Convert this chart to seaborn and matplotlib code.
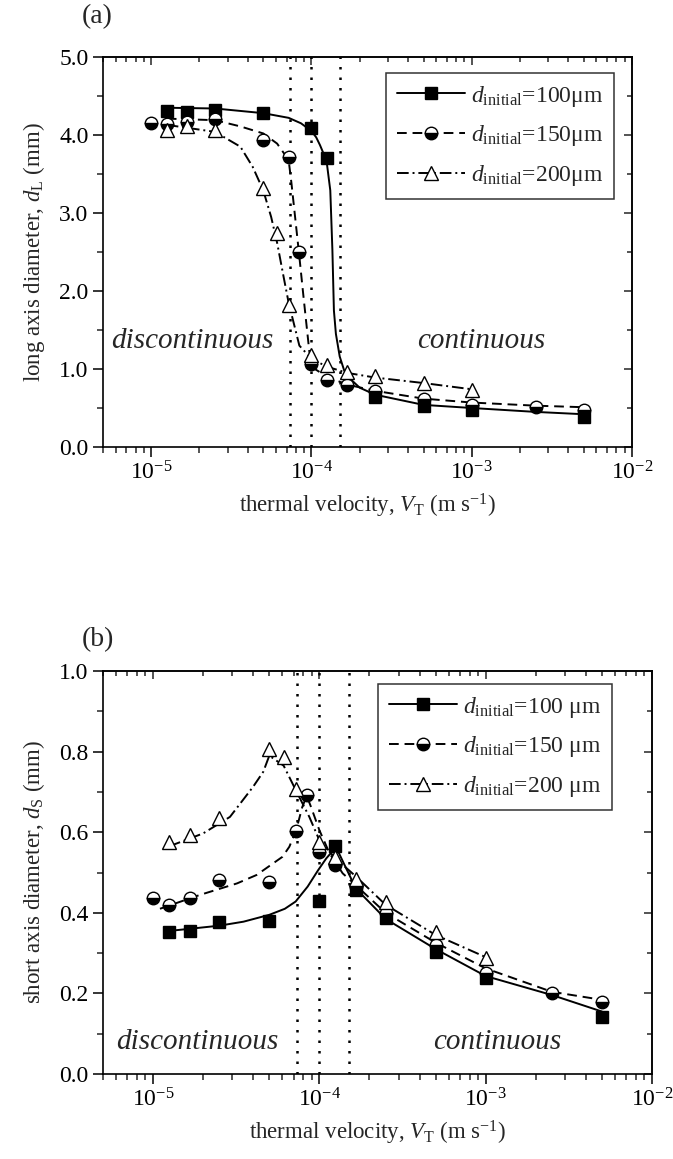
import numpy as np
import pandas as pd
import matplotlib
matplotlib.use('Agg')
import matplotlib.pyplot as plt
import seaborn as sns
from matplotlib.lines import Line2D
from matplotlib.ticker import LogLocator, MultipleLocator, FormatStrFormatter, NullFormatter

# ---- panel (a): long axis diameter, measured points ----
vt_a_100 = [1.25e-5, 1.67e-5, 2.5e-5, 5e-5, 1e-4, 1.25e-4, 2.5e-4, 5e-4, 1e-3, 5e-3]
dl_100 = [4.31, 4.29, 4.32, 4.28, 4.09, 3.70, 0.64, 0.53, 0.47, 0.39]
vt_a_150 = [1e-5, 1.25e-5, 1.67e-5, 2.5e-5, 5e-5, 7.2e-5, 8.4e-5, 1e-4, 1.25e-4, 1.67e-4,
            2.5e-4, 5e-4, 1e-3, 2.5e-3, 5e-3]
dl_150 = [4.16, 4.14, 4.17, 4.20, 3.94, 3.72, 2.50, 1.07, 0.86, 0.79, 0.72, 0.61, 0.54, 0.51, 0.48]
vt_a_200 = [1.25e-5, 1.67e-5, 2.5e-5, 5e-5, 6.1e-5, 7.2e-5, 1e-4, 1.25e-4, 1.67e-4, 2.5e-4, 5e-4, 1e-3]
dl_200 = [4.06, 4.11, 4.06, 3.32, 2.74, 1.82, 1.18, 1.05, 0.965, 0.91, 0.82, 0.73]

# fitted curves (a)
fit_a_100_vt = [1.2e-5, 2.5e-5, 5e-5, 7.2e-5, 8.6e-5, 1e-4, 1.07e-4, 1.13e-4, 1.19e-4, 1.25e-4,
                1.31e-4, 1.35e-4, 1.38e-4, 1.42e-4, 1.5e-4, 1.6e-4, 1.73e-4, 2e-4, 2.5e-4,
                5e-4, 1e-3, 2.5e-3, 5e-3]
fit_a_100_d = [4.35, 4.34, 4.28, 4.22, 4.15, 4.05, 3.97, 3.87, 3.76, 3.62,
               3.29, 2.53, 1.75, 1.45, 1.16, 0.98, 0.88, 0.76, 0.67,
               0.54, 0.50, 0.45, 0.42]
fit_a_150_vt = [1.25e-5, 2.5e-5, 3.6e-5, 5e-5, 6.1e-5, 7.2e-5, 7.5e-5, 7.9e-5, 8.4e-5, 8.9e-5,
                9.7e-5, 1.05e-4, 1.25e-4, 1.67e-4, 2.5e-4, 5e-4, 1e-3, 2.5e-3, 5e-3]
fit_a_150_d = [4.21, 4.19, 4.11, 4.02, 3.89, 3.68, 3.38, 2.95, 2.44, 1.94,
               1.22, 1.00, 0.90, 0.80, 0.72, 0.62, 0.57, 0.53, 0.51]
fit_a_200_vt = [1.25e-5, 2.5e-5, 3.6e-5, 4.3e-5, 5e-5, 5.6e-5, 6.1e-5, 6.7e-5, 7.2e-5, 8.4e-5,
                1e-4, 1.25e-4, 1.67e-4, 2.5e-4, 5e-4, 1e-3]
fit_a_200_d = [4.13, 4.04, 3.85, 3.59, 3.29, 2.95, 2.62, 2.18, 1.85, 1.30,
               1.13, 1.03, 0.95, 0.89, 0.82, 0.74]

# ---- panel (b): short axis diameter, measured points ----
vt_b_100 = [1.25e-5, 1.67e-5, 2.5e-5, 5e-5, 1e-4, 1.25e-4, 1.67e-4, 2.5e-4, 5e-4, 1e-3, 5e-3]
ds_100 = [0.353, 0.355, 0.378, 0.380, 0.429, 0.566, 0.457, 0.386, 0.303, 0.237, 0.142]
vt_b_150 = [1e-5, 1.25e-5, 1.67e-5, 2.5e-5, 5e-5, 7.2e-5, 8.4e-5, 1e-4, 1.25e-4, 1.67e-4,
            2.5e-4, 5e-4, 1e-3, 2.5e-3, 5e-3]
ds_150 = [0.436, 0.419, 0.436, 0.481, 0.477, 0.604, 0.692, 0.552, 0.519, 0.465,
          0.400, 0.320, 0.250, 0.200, 0.179]
vt_b_200 = [1.25e-5, 1.67e-5, 2.5e-5, 5e-5, 6.1e-5, 7.2e-5, 1e-4, 1.25e-4, 1.67e-4, 2.5e-4, 5e-4, 1e-3]
ds_200 = [0.576, 0.593, 0.634, 0.806, 0.787, 0.708, 0.576, 0.539, 0.485, 0.428, 0.353, 0.289]

# fitted curves (b)
fit_b_100_vt = [1.25e-5, 2.5e-5, 3.5e-5, 5e-5, 6.2e-5, 7.2e-5, 8.5e-5, 9.8e-5, 1.1e-4, 1.26e-4,
                1.45e-4, 1.66e-4, 2.5e-4, 5e-4, 1e-3, 2.5e-3, 5e-3]
fit_b_100_d = [0.355, 0.368, 0.378, 0.395, 0.410, 0.428, 0.465, 0.505, 0.535, 0.563,
               0.510, 0.460, 0.385, 0.310, 0.243, 0.196, 0.155]
fit_b_150_vt = [1.1e-5, 1.9e-5, 3.2e-5, 4.2e-5, 6e-5, 6.6e-5, 7.25e-5, 7.9e-5, 8.4e-5, 8.9e-5,
                1e-4, 1.15e-4, 1.38e-4, 1.66e-4, 2.5e-4, 5e-4, 1e-3, 2.5e-3, 5e-3]
fit_b_150_d = [0.410, 0.444, 0.473, 0.494, 0.539, 0.564, 0.605, 0.663, 0.690, 0.663,
               0.605, 0.548, 0.498, 0.468, 0.400, 0.326, 0.262, 0.204, 0.184]
fit_b_200_vt = [1.25e-5, 2e-5, 2.9e-5, 4e-5, 4.6e-5, 5e-5, 6.1e-5, 7.2e-5, 8.7e-5, 1e-4,
                1.25e-4, 1.66e-4, 2.5e-4, 5e-4, 1e-3]
fit_b_200_d = [0.565, 0.597, 0.638, 0.713, 0.750, 0.790, 0.765, 0.705, 0.638, 0.580,
               0.535, 0.490, 0.420, 0.345, 0.290]

transition_vt = [7.3e-5, 1e-4, 1.5e-4]

sizes = ['100', '150', '200']
dash_map = {'100': '', '150': (5, 3), '200': (6, 2, 1, 2)}

sns.set_style('ticks')
plt.rcParams['font.family'] = ['Liberation Serif', 'DejaVu Serif']
plt.rcParams['mathtext.fontset'] = 'custom'
plt.rcParams['mathtext.rm'] = 'Liberation Serif'
plt.rcParams['mathtext.it'] = 'Liberation Serif:italic'
plt.rcParams['mathtext.bf'] = 'Liberation Serif:bold'

W, H = 673, 1159
fig = plt.figure(figsize=(W / 100, H / 100), dpi=100)
ax_a = fig.add_axes([103 / W, 1 - 447 / H, (632 - 103) / W, (447 - 57) / H])
ax_b = fig.add_axes([103 / W, 1 - 1074 / H, (652 - 103) / W, (1074 - 671) / H])

marker_kw = {
    '100': dict(marker='s', ms=8.5, mfc='k', mec='k', mew=1.0),
    '150': dict(marker='o', ms=9, mfc='k', mfcalt='white', fillstyle='bottom', mec='k', mew=1.0),
    '200': dict(marker='^', ms=10, mfc='white', mec='k', mew=1.0),
}


def fit_frame(xs, ys):
    parts = []
    for s, x, y in zip(sizes, xs, ys):
        parts.append(pd.DataFrame({'vt': x, 'd': y, 'size': s}))
    return pd.concat(parts, ignore_index=True)


def draw_panel(ax, pts, fits, ymax, ymajor, yminor, ylabel, unit_sep, legend_anchor):
    ax.set_xscale('log')
    for v in transition_vt:
        ax.axvline(v, color='k', ls=(0, (1, 3.2)), lw=1.8, zorder=1)
    sns.lineplot(data=fits, x='vt', y='d', style='size', dashes=dash_map, color='k',
                 lw=1.4, estimator=None, sort=False, legend=False, ax=ax, zorder=2)
    for s, (x, y) in zip(sizes, pts):
        ax.plot(x, y, ls='none', zorder=3, **marker_kw[s])

    ax.set_xlim(5e-6, 1e-2)
    ax.set_ylim(0, ymax)
    ax.xaxis.set_major_locator(LogLocator(base=10, numticks=10))
    ax.xaxis.set_minor_locator(LogLocator(base=10, subs=np.arange(2, 10), numticks=20))
    ax.xaxis.set_minor_formatter(NullFormatter())
    ax.yaxis.set_major_locator(MultipleLocator(ymajor))
    ax.yaxis.set_minor_locator(MultipleLocator(yminor))
    ax.yaxis.set_major_formatter(FormatStrFormatter('%.1f'))
    ax.tick_params(which='major', direction='out', length=7, width=1.1, labelsize=17, colors='k')
    ax.tick_params(which='minor', direction='out', length=4, width=1.1)
    for sp in ax.spines.values():
        sp.set_linewidth(1.2)
        sp.set_color('k')

    top = ax.secondary_xaxis('top')
    top.xaxis.set_major_locator(LogLocator(base=10, numticks=10))
    top.xaxis.set_minor_locator(LogLocator(base=10, subs=np.arange(2, 10), numticks=20))
    top.tick_params(which='major', direction='in', length=6, width=1.1, labeltop=False)
    top.tick_params(which='minor', direction='in', length=3.5, width=1.1)
    top.spines['top'].set_linewidth(1.2)
    right = ax.secondary_yaxis('right')
    right.yaxis.set_major_locator(MultipleLocator(ymajor))
    right.yaxis.set_minor_locator(MultipleLocator(yminor))
    right.tick_params(which='major', direction='in', length=6, width=1.1, labelright=False)
    right.tick_params(which='minor', direction='in', length=3.5, width=1.1)
    right.spines['right'].set_linewidth(1.2)

    ax.set_xlabel(r'thermal velocity, $V_\mathrm{T}$ (m s$^{-1}$)', fontsize=16.5, labelpad=5)
    ax.set_ylabel(ylabel, fontsize=16.5, labelpad=9)

    handles = []
    labels = []
    for s in sizes:
        h = Line2D([], [], color='k', lw=1.4, **marker_kw[s])
        if dash_map[s]:
            h.set_dashes(dash_map[s])
        handles.append(h)
        labels.append(r'$d_{\mathrm{initial}}$=' + s + unit_sep + 'μm')
    leg = ax.legend(handles, labels, loc='upper right', bbox_to_anchor=legend_anchor,
                    bbox_transform=fig.transFigure, borderaxespad=0, fontsize=17,
                    frameon=True, fancybox=False, handlelength=2.9, handletextpad=0.25,
                    labelspacing=0.62, borderpad=0.45, markerscale=1.0)
    leg.get_frame().set_edgecolor('k')
    leg.get_frame().set_linewidth(1.1)
    leg.set_zorder(5)


draw_panel(ax_a, [(vt_a_100, dl_100), (vt_a_150, dl_150), (vt_a_200, dl_200)],
           fit_frame([fit_a_100_vt, fit_a_150_vt, fit_a_200_vt],
                     [fit_a_100_d, fit_a_150_d, fit_a_200_d]),
           5.0, 1.0, 0.5, r'long axis diameter, $d_\mathrm{L}$ (mm)', '',
           (614 / W, 1 - 73 / H))
draw_panel(ax_b, [(vt_b_100, ds_100), (vt_b_150, ds_150), (vt_b_200, ds_200)],
           fit_frame([fit_b_100_vt, fit_b_150_vt, fit_b_200_vt],
                     [fit_b_100_d, fit_b_150_d, fit_b_200_d]),
           1.0, 0.2, 0.1, r'short axis diameter, $d_\mathrm{S}$ (mm)', ' ',
           (612 / W, 1 - 684 / H))

ax_a.text(1.8e-5, 1.27, 'discontinuous', style='italic', fontsize=21, ha='center', va='baseline')
ax_a.text(1.15e-3, 1.27, 'continuous', style='italic', fontsize=21, ha='center', va='baseline')
ax_b.text(1.85e-5, 0.063, 'discontinuous', style='italic', fontsize=21, ha='center', va='baseline')
ax_b.text(1.18e-3, 0.063, 'continuous', style='italic', fontsize=21, ha='center', va='baseline')

fig.text(97 / W, 1 - 17 / H, '(a)', fontsize=20, ha='center', va='center')
fig.text(98 / W, 1 - 640 / H, '(b)', fontsize=20, ha='center', va='center')

fig.savefig('out.png', dpi=100)
